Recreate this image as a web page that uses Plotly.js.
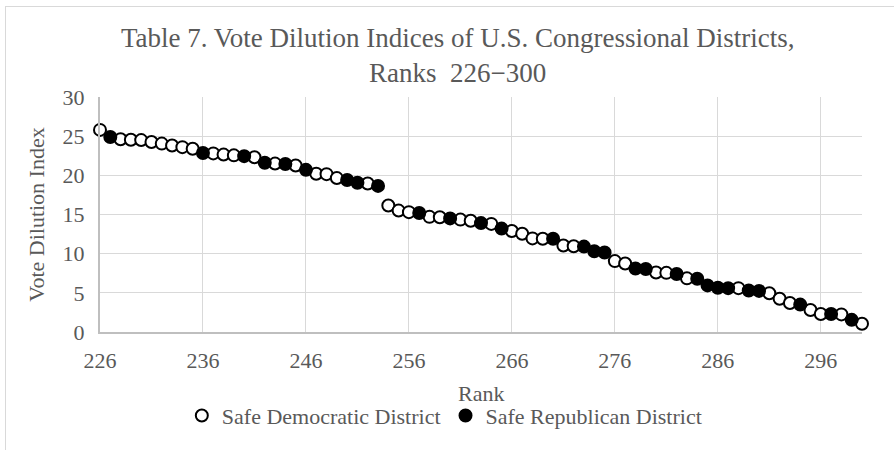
<!DOCTYPE html>
<html>
<head>
<meta charset="utf-8">
<script src="https://cdn.plot.ly/plotly-3.0.1.min.js"></script>
<style>
  html, body { margin: 0; padding: 0; background: #ffffff; }
  #wrap { position: relative; width: 894px; height: 450px; overflow: hidden; }
  #chart { position: absolute; left: 0; top: 0; width: 894px; height: 450px; }
  /* outer frame of the chart object (top and left edges) */
  #frame { position: absolute; left: 5px; top: 6px; width: 900px; height: 460px;
           border-top: 1px solid #d9d9d9; border-left: 1px solid #d9d9d9; pointer-events: none; }
</style>
</head>
<body>
<div id="wrap">
  <div id="chart"></div>
  <div id="frame"></div>
</div>
<script>
// District ranks, vote dilution index and the party holding each seat
const ranks = [
  226, 227, 228, 229, 230, 231, 232, 233, 234, 235,
  236, 237, 238, 239, 240, 241, 242, 243, 244, 245,
  246, 247, 248, 249, 250, 251, 252, 253, 254, 255,
  256, 257, 258, 259, 260, 261, 262, 263, 264, 265,
  266, 267, 268, 269, 270, 271, 272, 273, 274, 275,
  276, 277, 278, 279, 280, 281, 282, 283, 284, 285,
  286, 287, 288, 289, 290, 291, 292, 293, 294, 295,
  296, 297, 298, 299, 300
];
const indexValues = [
  25.8, 24.9, 24.6, 24.55, 24.5, 24.25, 24.05, 23.8, 23.6, 23.4,
  22.85, 22.8, 22.65, 22.55, 22.45, 22.3, 21.6, 21.5, 21.45, 21.25,
  20.7, 20.2, 20.15, 19.65, 19.4, 19.05, 18.95, 18.65, 16.15, 15.5,
  15.3, 15.2, 14.7, 14.65, 14.5, 14.35, 14.2, 13.9, 13.8, 13.2,
  12.9, 12.55, 11.95, 11.9, 11.9, 11.05, 10.95, 10.9, 10.3, 10.15,
  9.05, 8.75, 8.1, 8.05, 7.6, 7.55, 7.4, 6.85, 6.8, 5.95,
  5.65, 5.6, 5.6, 5.3, 5.25, 4.95, 4.25, 3.7, 3.5, 2.8,
  2.3, 2.3, 2.25, 1.55, 1.05
];
const party = [
  'D', 'R', 'D', 'D', 'D', 'D', 'D', 'D', 'D', 'D',
  'R', 'D', 'D', 'D', 'R', 'D', 'R', 'D', 'R', 'D',
  'R', 'D', 'D', 'D', 'R', 'R', 'D', 'R', 'D', 'D',
  'D', 'R', 'D', 'D', 'R', 'D', 'D', 'R', 'D', 'R',
  'D', 'D', 'D', 'D', 'R', 'D', 'D', 'R', 'R', 'R',
  'D', 'D', 'R', 'R', 'D', 'D', 'R', 'D', 'R', 'R',
  'R', 'R', 'D', 'R', 'R', 'D', 'D', 'D', 'R', 'D',
  'D', 'R', 'D', 'R', 'D'
];
const seriesNames = { D: 'Safe Democratic District', R: 'Safe Republican District' };
const xTicks = [226, 236, 246, 256, 266, 276, 286, 296];
const xAxisLabel = 'Rank';

const serif = '"Liberation Serif", "Times New Roman", Times, serif';
const grey = '#595959';

function seriesFor(code, fill) {
  const xs = [], ys = [];
  ranks.forEach((r, i) => { if (party[i] === code) { xs.push(r); ys.push(indexValues[i]); } });
  return {
    type: 'scatter', mode: 'markers', name: seriesNames[code],
    x: xs, y: ys, cliponaxis: false,
    marker: { symbol: 'circle', size: 12, color: fill, line: { color: '#000000', width: 2 } }
  };
}

const traces = [seriesFor('D', '#ffffff'), seriesFor('R', '#000000')];

const layout = {
  width: 894, height: 450,
  paper_bgcolor: 'rgba(0,0,0,0)', plot_bgcolor: '#ffffff',
  margin: { l: 100, r: 32, t: 97, b: 118 },
  font: { family: serif, color: grey, size: 22 },
  title: {
    text: 'Table 7. Vote Dilution Indices of U.S. Congressional Districts,<br>Ranks\u00a0 226\u2212300',
    font: { family: serif, size: 27, color: grey },
    x: 0.512, xref: 'container', xanchor: 'center',
    y: 0.895, yref: 'container', yanchor: 'top'
  },
  xaxis: {
    range: [226, 300], tickvals: xTicks, ticktext: xTicks.map(String),
    automargin: false,
    showgrid: true, gridcolor: '#d9d9d9', gridwidth: 1,
    showline: true, linecolor: '#bfbfbf', linewidth: 2,
    zeroline: false, ticks: '', ticklabelstandoff: 8,
    tickfont: { family: serif, size: 22, color: grey }
  },
  yaxis: {
    range: [0, 30], dtick: 5, tick0: 0,
    automargin: false,
    showgrid: true, gridcolor: '#d9d9d9', gridwidth: 1,
    showline: true, linecolor: '#bfbfbf', linewidth: 2,
    zeroline: false, ticks: '', ticklabelstandoff: 9,
    tickfont: { family: serif, size: 22, color: grey },
    title: { text: 'Vote Dilution Index', font: { family: serif, size: 22, color: grey }, standoff: 12 }
  },
  // horizontal axis label, centred under the plot area
  annotations: [{
    text: xAxisLabel, showarrow: false,
    xref: 'paper', x: 0.5, xanchor: 'center',
    yref: 'paper', y: -0.26, yanchor: 'middle',
    font: { family: serif, size: 22, color: grey }
  }],
  showlegend: true,
  legend: {
    orientation: 'h', xref: 'container', x: 0.497, xanchor: 'center',
    yref: 'container', y: 0.123, yanchor: 'top',
    font: { family: serif, size: 22, color: grey },
    itemwidth: 30, tracegroupgap: 0, bgcolor: 'rgba(0,0,0,0)'
  }
};

Plotly.newPlot('chart', traces, layout, { displayModeBar: false, staticPlot: true });
</script>
</body>
</html>
